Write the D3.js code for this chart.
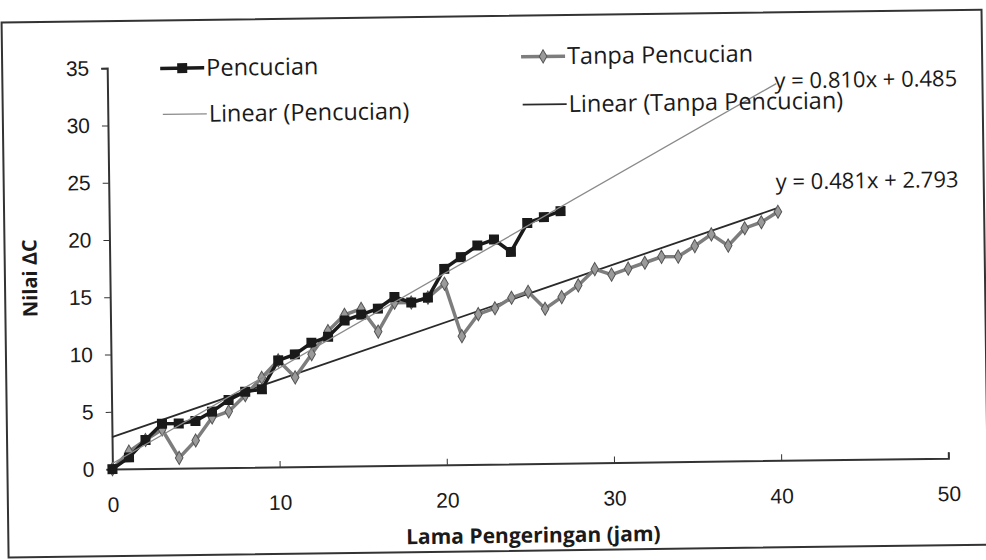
<!DOCTYPE html>
<html>
<head>
<meta charset="utf-8">
<script src="https://cdn.jsdelivr.net/npm/d3@7"></script>
<style>
  body { margin: 0; background: #fff; }
  svg { display: block; font-family: "Open Sans", Lato, sans-serif; }
  .tick text { font-size: 21px; fill: #1a1a1a; }
  .tick line, .domain { stroke: #333; }
</style>
</head>
<body>
<svg id="chart" width="986" height="560"></svg>
<script>
// hours of drying
var hoursPencucian = d3.range(0, 28);
var hoursTanpa = d3.range(0, 41);

// delta C values
var nilaiPencucian = [0, 1, 2.5, 3.9, 3.9, 4.1, 4.9, 5.9, 6.6, 6.8,
  9.3, 9.8, 10.8, 11.3, 12.7, 13.2, 13.7, 14.7, 14.2, 14.6,
  17.1, 18.1, 19.1, 19.6, 18.5, 21, 21.5, 22];
var nilaiTanpa = [0, 1.5, 2.5, 3.4, 0.9, 2.4, 4.4, 4.9, 6.3, 7.8,
  9.3, 7.8, 9.8, 11.8, 13.2, 13.7, 11.7, 14.2, 14.2, 14.6,
  15.8, 11.2, 13.1, 13.6, 14.5, 15, 13.5, 14.5, 15.5, 16.9,
  16.4, 16.9, 17.4, 17.9, 17.9, 18.8, 19.8, 18.8, 20.3, 20.8, 21.7];

// trend lines (from the chart labels)
var trendPencucian = {slope: 0.810, icept: 0.485, from: 0, to: 40, label: "y = 0.810x + 0.485"};
var trendTanpa = {slope: 0.481, icept: 2.793, from: 0, to: 40, label: "y = 0.481x + 2.793"};

var xTicks = [0, 10, 20, 30, 40, 50];
var yTicks = [0, 5, 10, 15, 20, 25, 30, 35];

// plot box (before the tilt)
var pLeft = 110, pRight = 946, pTop = 63, pBottom = 464;

var svg = d3.select("#chart");
// the scan is a little tilted
var g = svg.append("g").attr("transform", "rotate(-0.75, 500, 280)");

// outer frame
g.append("rect")
  .attr("x", 5).attr("y", 16).attr("width", 980).attr("height", 535)
  .attr("fill", "none").attr("stroke", "#333").attr("stroke-width", 2);

var x = d3.scaleLinear().domain([0, 50]).range([pLeft, pRight]);
var y = d3.scaleLinear().domain([0, 35]).range([pBottom, pTop]);

g.append("g")
  .attr("transform", "translate(0," + pBottom + ")")
  .call(d3.axisBottom(x).tickValues(xTicks).tickSize(-6).tickPadding(28))
  .call(function(a) {
    a.select(".domain").attr("stroke-width", 2);
  });

g.append("g")
  .attr("transform", "translate(" + pLeft + ",0)")
  .call(d3.axisLeft(y).tickValues(yTicks).tickSize(6).tickPadding(12))
  .call(function(a) {
    a.select(".domain").attr("stroke-width", 2);
  });

// trend lines
function trend(t) {
  return [[t.from, t.slope * t.from + t.icept], [t.to, t.slope * t.to + t.icept]];
}
var line = d3.line().x(function(d) { return x(d[0]); }).y(function(d) { return y(d[1]); });

g.append("path")
  .datum(trend(trendTanpa))
  .attr("d", line)
  .attr("fill", "none").attr("stroke", "#2a2a2a").attr("stroke-width", 1.8);

// series
var dataTanpa = hoursTanpa.map(function(h, i) { return [h, nilaiTanpa[i]]; });
var dataPencucian = hoursPencucian.map(function(h, i) { return [h, nilaiPencucian[i]]; });

g.append("path")
  .datum(dataTanpa)
  .attr("d", line)
  .attr("fill", "none").attr("stroke", "#7d7d7d").attr("stroke-width", 3.5);

g.selectAll(".dia")
  .data(dataTanpa)
  .enter().append("path")
    .attr("class", "dia")
    .attr("d", d3.symbol(d3.symbolDiamond, 50))
    .attr("transform", function(d) { return "translate(" + x(d[0]) + "," + y(d[1]) + ")"; })
    .attr("fill", "#9a9a9a").attr("stroke", "#555").attr("stroke-width", 1);

g.append("path")
  .datum(dataPencucian)
  .attr("d", line)
  .attr("fill", "none").attr("stroke", "#1a1a1a").attr("stroke-width", 3.5);

g.selectAll(".sq")
  .data(dataPencucian)
  .enter().append("rect")
    .attr("class", "sq")
    .attr("x", function(d) { return x(d[0]) - 5; })
    .attr("y", function(d) { return y(d[1]) - 5; })
    .attr("width", 10).attr("height", 10)
    .attr("fill", "#1a1a1a");

g.append("path")
  .datum(trend(trendPencucian))
  .attr("d", line)
  .attr("fill", "none").attr("stroke", "#8a8a8a").attr("stroke-width", 1.3);

// equation labels
g.append("text").attr("x", 777).attr("y", 92)
  .attr("font-size", 22).attr("fill", "#1a1a1a").text(trendPencucian.label);
g.append("text").attr("x", 777).attr("y", 193)
  .attr("font-size", 22).attr("fill", "#1a1a1a").text(trendTanpa.label);

// legend
var legend = [
  {name: "Pencucian", x: 163, y: 64, stroke: "#1a1a1a", w: 3.5, mark: "sq"},
  {name: "Tanpa Pencucian", x: 524, y: 57, stroke: "#7d7d7d", w: 3.5, mark: "dia"},
  {name: "Linear (Pencucian)", x: 165, y: 110, stroke: "#8a8a8a", w: 1.3, mark: null},
  {name: "Linear (Tanpa Pencucian)", x: 525, y: 105, stroke: "#2a2a2a", w: 1.8, mark: null}
];

var lg = g.selectAll(".lg").data(legend).enter().append("g")
  .attr("transform", function(d) { return "translate(" + d.x + "," + d.y + ")"; });

lg.append("line")
  .attr("x1", 0).attr("x2", 44).attr("y1", 0).attr("y2", 0)
  .attr("stroke", function(d) { return d.stroke; })
  .attr("stroke-width", function(d) { return d.w; });

lg.filter(function(d) { return d.mark == "sq"; })
  .append("rect").attr("x", 17).attr("y", -5).attr("width", 10).attr("height", 10)
  .attr("fill", "#1a1a1a");

lg.filter(function(d) { return d.mark == "dia"; })
  .append("path").attr("d", d3.symbol(d3.symbolDiamond, 50))
  .attr("transform", "translate(22,0)")
  .attr("fill", "#9a9a9a").attr("stroke", "#555");

lg.append("text")
  .attr("x", 46).attr("y", 8)
  .attr("font-size", 23.5).attr("fill", "#1a1a1a")
  .text(function(d) { return d.name; });

// axis titles
g.append("text")
  .attr("x", 530).attr("y", 543)
  .attr("text-anchor", "middle")
  .attr("font-size", 21).attr("font-weight", "bold").attr("fill", "#1a1a1a")
  .text("Lama Pengeringan (jam)");

g.append("text")
  .attr("transform", "translate(37,272) rotate(-90)")
  .attr("text-anchor", "middle")
  .attr("font-size", 20).attr("font-weight", "bold").attr("fill", "#1a1a1a")
  .text("Nilai  ΔC");
</script>
</body>
</html>
